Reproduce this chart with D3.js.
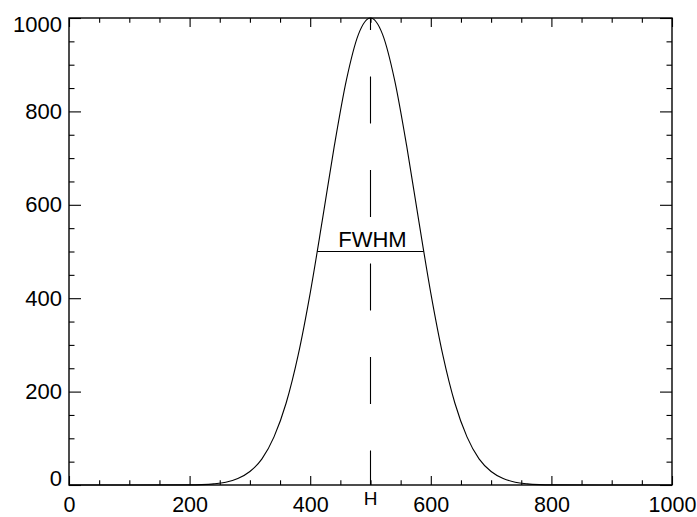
<!DOCTYPE html>
<html>
<head>
<meta charset="utf-8">
<script src="https://cdn.jsdelivr.net/npm/d3@7"></script>
<style>
  html, body { margin: 0; padding: 0; background: #fff; }
  svg { display: block; }
  text { font-family: "Liberation Sans", Arial, Helvetica, sans-serif; fill: #000; }
</style>
</head>
<body>
<svg id="chart" width="697" height="517"></svg>
<script>
// Curve samples (x, counts)
const xValues = [0, 100, 200, 220, 240, 260, 280, 300, 320, 340, 360, 380, 400, 420, 440, 460, 480,
                 500, 520, 540, 560, 580, 600, 620, 640, 660, 680, 700, 720, 740, 760, 780, 800, 900, 1000];
const yValues = [0, 0, 0.3, 0.9, 2.5, 6, 14, 29, 56, 103, 175, 278, 411, 566, 726, 867, 965,
                 1000, 965, 867, 726, 566, 411, 278, 175, 103, 56, 29, 14, 6, 2.5, 0.9, 0.3, 0, 0];
const xTicks = [0, 200, 400, 600, 800, 1000];
const yTicks = [0, 200, 400, 600, 800, 1000];
const peakX = [500];
const peakLabel = ["H"];
const fwhmX = [411.7, 588.3];
const fwhmY = [500];
const fwhmLabel = ["FWHM"];

const svg = d3.select("#chart");
const margin = { left: 69, right: 25, top: 18, bottom: 32 };
const W = 697, H = 517;
const x = d3.scaleLinear().domain([0, 1000]).range([margin.left, W - margin.right]);
const y = d3.scaleLinear().domain([0, 1000]).range([H - margin.bottom, margin.top]);
const x0 = x.range()[0], x1 = x.range()[1], y0 = y.range()[0], y1 = y.range()[1];

const fontSize = 22;
const minorX = d3.range(0, 1001, 50).filter(v => v % 200 !== 0);
const minorY = d3.range(0, 1001, 50).filter(v => v % 200 !== 0);
const xMajLen = 9, xMinLen = 4.7, yMajLen = 12, yMinLen = 5.5;

function styleAxis(g) {
  g.select(".domain").remove();
  g.selectAll("line").attr("stroke", "#000").attr("stroke-width", 1.1);
  g.selectAll("text").style("font-size", fontSize + "px").attr("fill", "#000");
}

// bottom
const gb = svg.append("g").attr("transform", `translate(0,${y0})`)
  .call(d3.axisBottom(x).tickValues(xTicks).tickSizeInner(-xMajLen).tickSizeOuter(0).tickPadding(12).tickFormat(d3.format("d")))
  .call(styleAxis);
gb.selectAll(".tick text").style("font-size", "21.5px");
svg.append("g").attr("transform", `translate(0,${y0})`)
  .call(d3.axisBottom(x).tickValues(minorX).tickSizeInner(-xMinLen).tickSizeOuter(0).tickFormat(""))
  .call(styleAxis);
// top
svg.append("g").attr("transform", `translate(0,${y1})`)
  .call(d3.axisTop(x).tickValues(xTicks).tickSizeInner(-xMajLen).tickSizeOuter(0).tickFormat(""))
  .call(styleAxis);
svg.append("g").attr("transform", `translate(0,${y1})`)
  .call(d3.axisTop(x).tickValues(minorX).tickSizeInner(-xMinLen).tickSizeOuter(0).tickFormat(""))
  .call(styleAxis);
// left
const gl = svg.append("g").attr("transform", `translate(${x0},0)`)
  .call(d3.axisLeft(y).tickValues(yTicks).tickSizeInner(-yMajLen).tickSizeOuter(0).tickPadding(7).tickFormat(d3.format("d")))
  .call(styleAxis);
gl.selectAll(".tick text").attr("dy", d => d === 0 ? "0.0em" : (d === 1000 ? "0.62em" : "0.32em"));
svg.append("g").attr("transform", `translate(${x0},0)`)
  .call(d3.axisLeft(y).tickValues(minorY).tickSizeInner(-yMinLen).tickSizeOuter(0).tickFormat(""))
  .call(styleAxis);
// right
svg.append("g").attr("transform", `translate(${x1},0)`)
  .call(d3.axisRight(y).tickValues(yTicks).tickSizeInner(-yMajLen).tickSizeOuter(0).tickFormat(""))
  .call(styleAxis);
svg.append("g").attr("transform", `translate(${x1},0)`)
  .call(d3.axisRight(y).tickValues(minorY).tickSizeInner(-yMinLen).tickSizeOuter(0).tickFormat(""))
  .call(styleAxis);

// frame
svg.append("rect").attr("x", x0).attr("y", y1).attr("width", x1 - x0).attr("height", y0 - y1)
  .attr("fill", "none").attr("stroke", "#000").attr("stroke-width", 1.4);

// curve
const pts = xValues.map((v, i) => [v, yValues[i]]);
svg.append("path").datum(pts)
  .attr("fill", "none").attr("stroke", "#000").attr("stroke-width", 1.1)
  .attr("d", d3.line().x(d => x(d[0])).y(d => y(d[1])).curve(d3.curveMonotoneX));

// dashed peak line
svg.append("line")
  .attr("x1", x(peakX[0])).attr("x2", x(peakX[0]))
  .attr("y1", y(1000)).attr("y2", y(0))
  .attr("stroke", "#000").attr("stroke-width", 1.1)
  .attr("stroke-dasharray", "47,46.5").attr("stroke-dashoffset", 35);

svg.append("text").attr("x", x(peakX[0])).attr("y", y0 + 20)
  .attr("text-anchor", "middle").style("font-size", "19px").text(peakLabel[0]);

// FWHM line
svg.append("line")
  .attr("x1", x(fwhmX[0])).attr("x2", x(fwhmX[1]))
  .attr("y1", y(fwhmY[0])).attr("y2", y(fwhmY[0]))
  .attr("stroke", "#000").attr("stroke-width", 1.1);
svg.append("text").attr("x", x(d3.mean(fwhmX)) + 2).attr("y", y(fwhmY[0]) - 5)
  .attr("text-anchor", "middle").style("font-size", fontSize + "px").text(fwhmLabel[0]);
</script>
</body>
</html>
